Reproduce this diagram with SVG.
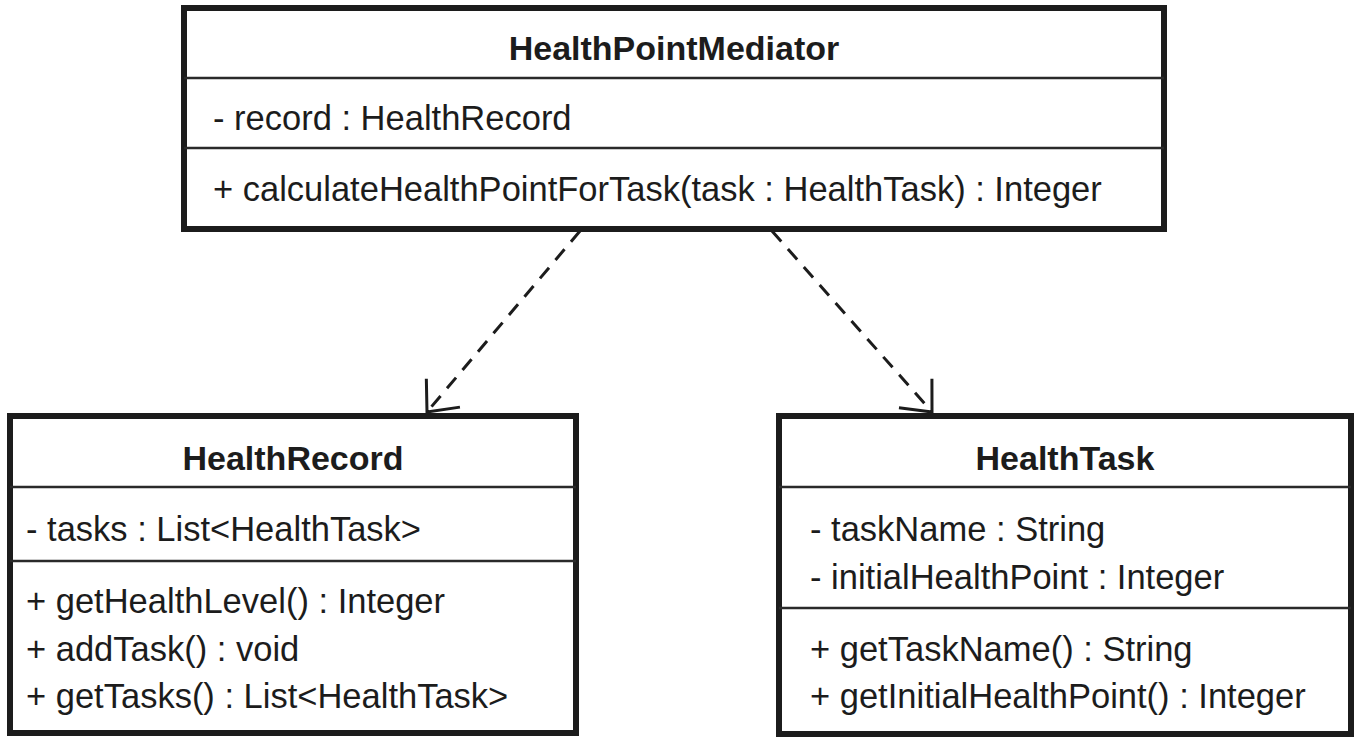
<svg xmlns="http://www.w3.org/2000/svg" width="1360" height="741" viewBox="0 0 1360 741">
<defs>
<style>
.box{fill:#fff;stroke:#1c1c1c;stroke-width:6}
.div{stroke:#2a2a2a;stroke-width:2.5}
.t{font-family:"Liberation Sans",Arial,sans-serif;font-size:34.5px;fill:#1c1c1c}
.b{font-weight:bold;text-anchor:middle;font-size:34px}
.dep{fill:none;stroke:#1c1c1c;stroke-width:3;stroke-dasharray:14 10}
.ah{fill:none;stroke:#1c1c1c;stroke-width:3}
</style>
<marker id="open" markerUnits="userSpaceOnUse" markerWidth="60" markerHeight="60" refX="0" refY="0" viewBox="-30 -30 60 60" orient="auto" overflow="visible">
<path d="M-25,-22 L0,0 L-25,22" class="ah"/>
</marker>
</defs>
<rect width="1360" height="741" fill="#fff"/>
<g id="connectors">
<line class="dep" x1="580" y1="231" x2="427" y2="412" marker-end="url(#open)"/>
<line class="dep" x1="772" y1="231" x2="932" y2="412" marker-end="url(#open)"/>
</g>
<g id="HealthPointMediator">
<rect class="box" x="184" y="8" width="980" height="221"/>
<line class="div" x1="184" y1="78" x2="1164" y2="78"/>
<line class="div" x1="184" y1="148" x2="1164" y2="148"/>
<text class="t b" x="674" y="60">HealthPointMediator</text>
<text class="t" x="213" y="130">- record : HealthRecord</text>
<text class="t" x="213" y="201">+ calculateHealthPointForTask(task : HealthTask) : Integer</text>
</g>
<g id="HealthRecord">
<rect class="box" x="10" y="416" width="566" height="317"/>
<line class="div" x1="10" y1="487" x2="576" y2="487"/>
<line class="div" x1="10" y1="561" x2="576" y2="561"/>
<text class="t b" x="293" y="470">HealthRecord</text>
<text class="t" x="26" y="541">- tasks : List&lt;HealthTask&gt;</text>
<text class="t" x="26" y="613">+ getHealthLevel() : Integer</text>
<text class="t" x="26" y="661">+ addTask() : void</text>
<text class="t" x="26" y="708">+ getTasks() : List&lt;HealthTask&gt;</text>
</g>
<g id="HealthTask">
<rect class="box" x="779" y="416" width="572" height="318"/>
<line class="div" x1="779" y1="487" x2="1351" y2="487"/>
<line class="div" x1="779" y1="608" x2="1351" y2="608"/>
<text class="t b" x="1065" y="470">HealthTask</text>
<text class="t" x="810" y="541">- taskName : String</text>
<text class="t" x="810" y="589">- initialHealthPoint : Integer</text>
<text class="t" x="810" y="661">+ getTaskName() : String</text>
<text class="t" x="810" y="708">+ getInitialHealthPoint() : Integer</text>
</g>
</svg>
